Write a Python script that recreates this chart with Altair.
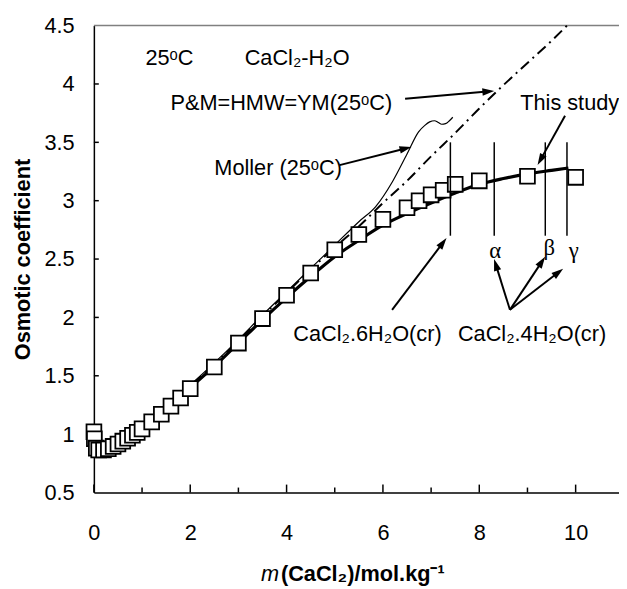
import math
import altair as alt
import pandas as pd

# ---------------- axes ----------------
XMAX = 10.9
YMIN, YMAX = 0.5, 4.5
W, H = 532, 473
x_major = [0, 2, 4, 6, 8, 10]
x_minor = [1, 3, 5, 7, 9]
y_ticks = [1.0, 1.5, 2.0, 2.5, 3.0, 3.5, 4.0]
y_labels = [0.5, 1.0, 1.5, 2.0, 2.5, 3.0, 3.5, 4.0, 4.5]

# ---------------- experimental points (squares) ----------------
exp_m = [0.001, 0.01, 0.05, 0.1, 0.2, 0.3, 0.4, 0.5, 0.6, 0.7, 0.8, 0.9, 1.0,
         1.2, 1.4, 1.6, 1.8, 2.0, 2.5, 3.0, 3.5, 4.0, 4.5, 5.0, 5.5, 6.0,
         6.5, 6.75, 7.0, 7.25, 7.5, 8.0, 9.0, 10.0]
exp_phi = [1.02, 0.96, 0.88, 0.865, 0.865, 0.875, 0.895, 0.915, 0.94, 0.965,
           0.99, 1.015, 1.045, 1.105, 1.17, 1.24, 1.31, 1.39, 1.575, 1.78,
           1.99, 2.19, 2.38, 2.58, 2.71, 2.84, 2.94, 3.0, 3.05, 3.09, 3.14,
           3.17, 3.21, 3.20]

# ---------------- model curves ----------------
study_m = [0, 0.02, 0.05, 0.1, 0.2, 0.3, 0.5, 0.75, 1.0, 1.5, 2.0, 2.5, 3.0,
           3.5, 4.0, 4.5, 5.0, 5.5, 6.0, 6.5, 7.0, 7.5, 8.0, 8.5, 9.0, 9.5, 9.85]
study_phi = [1.0, 0.9, 0.87, 0.855, 0.86, 0.875, 0.915, 0.98, 1.05, 1.22,
             1.40, 1.58, 1.78, 1.98, 2.17, 2.35, 2.52, 2.66, 2.79, 2.89,
             2.98, 3.065, 3.14, 3.19, 3.23, 3.26, 3.28]

pm_m = [0, 0.05, 0.1, 0.2, 0.5, 1.0, 1.5, 2.0, 2.5, 3.0, 3.5, 4.0, 4.5, 5.0,
        5.5, 6.0, 6.5, 7.0, 7.5, 8.0, 8.5, 9.0, 9.5, 9.82]
pm_phi = [1.0, 0.87, 0.855, 0.86, 0.915, 1.05, 1.225, 1.41, 1.60, 1.80, 2.01,
          2.21, 2.41, 2.60, 2.78, 2.98, 3.17, 3.38, 3.58, 3.79, 3.99, 4.18,
          4.37, 4.50]

moller_m = [0, 0.05, 0.1, 0.2, 0.5, 1.0, 1.5, 2.0, 2.5, 3.0, 3.5, 4.0, 4.5,
            5.0, 5.5, 5.85, 6.2, 6.5, 6.74, 6.87, 6.97, 7.07, 7.15, 7.22,
            7.3, 7.38, 7.45]
moller_phi = [1.0, 0.87, 0.855, 0.86, 0.915, 1.055, 1.23, 1.42, 1.61, 1.81,
              2.02, 2.22, 2.42, 2.62, 2.82, 2.95, 3.165, 3.40, 3.59, 3.645,
              3.675, 3.685, 3.67, 3.655, 3.66, 3.685, 3.715]

# ---------------- phase boundaries ----------------
phase_m = [7.40, 8.31, 9.37, 9.82]
phase_lo = [2.70, 2.70, 2.70, 2.70]
phase_hi = [3.50, 3.50, 3.50, 3.50]

greek_text = ["α", "β", "γ"]
greek_m = [8.33, 9.45, 9.96]
greek_phi = [2.57, 2.59, 2.57]

# ---------------- annotations ----------------
label_text = ["25ᵒC", "CaCl₂-H₂O", "P&M=HMW=YM(25ᵒC)", "Moller (25ᵒC)",
              "This study", "CaCl₂.6H₂O(cr)", "CaCl₂.4H₂O(cr)"]
label_m = [1.07, 3.13, 1.59, 2.50, 8.85, 4.14, 7.556]
label_phi = [4.22, 4.22, 3.84, 3.28, 3.84, 1.86, 1.86]

arrow_tail_m = [5.10, 6.46, 9.78, 6.19, 8.636, 8.636, 8.636]
arrow_tail_phi = [3.305, 3.874, 3.728, 2.065, 2.065, 2.065, 2.065]
arrow_head_m = [6.59, 8.31, 9.21, 7.32, 8.307, 9.367, 9.74]
arrow_head_phi = [3.46, 3.94, 3.305, 2.68, 2.50, 2.52, 2.417]

xtitle_m = [3.842, 3.883]
xtitle_phi = [-0.20, -0.20]

# ---------------- helpers ----------------
KX = W / XMAX
KY = H / (YMAX - YMIN)
XTICK_MAJ = 8 / KY
XTICK_MIN = 5 / KY
YTICK = 5 / KX
HEAD_LEN = 12

xscale = alt.Scale(domain=[0, XMAX], nice=False, zero=False)
yscale = alt.Scale(domain=[YMIN, YMAX], nice=False, zero=False)
xaxis = alt.Axis(values=x_major, tickSize=0, labelFontSize=22, labelPadding=31,
                 domainColor="black", domainWidth=1.5, grid=False, title=None,
                 labelColor="black", labelFlush=False, labelOverlap=False)
yaxis = alt.Axis(values=y_labels, format="~g", tickSize=0, labelFontSize=22,
                 labelPadding=20, domainColor="black", domainWidth=1.5,
                 grid=False, title="Osmotic coefficient", titleFontSize=22,
                 titleFontWeight="bold", titleColor="black", titlePadding=10,
                 labelColor="black", labelFlush=False, labelOverlap=False)


def X(f="x"):
    return alt.X(f + ":Q", scale=xscale, axis=xaxis)


def Y(f="y"):
    return alt.Y(f + ":Q", scale=yscale, axis=yaxis)


# frame
top_df = pd.DataFrame({"x": [0], "x2": [XMAX], "y": [YMAX]})
top = alt.Chart(top_df).mark_rule(color="#808080", strokeWidth=1.5).encode(
    x=X(), x2="x2:Q", y=Y())

xt_df = pd.DataFrame({"x": x_major + x_minor,
                      "y": [YMIN] * (len(x_major) + len(x_minor)),
                      "y2": [YMIN + XTICK_MAJ] * len(x_major) + [YMIN + XTICK_MIN] * len(x_minor)})
xt = alt.Chart(xt_df).mark_rule(color="black", strokeWidth=1.5).encode(
    x=X(), y=Y(), y2="y2:Q")
yt_df = pd.DataFrame({"x": [0] * len(y_ticks), "x2": [YTICK] * len(y_ticks), "y": y_ticks})
yt = alt.Chart(yt_df).mark_rule(color="black", strokeWidth=1.5).encode(
    x=X(), x2="x2:Q", y=Y())

# curves
def curve(mx, my, width, dash=None):
    df = pd.DataFrame({"x": mx, "y": my})
    kw = dict(color="black", strokeWidth=width, interpolate="monotone")
    if dash:
        kw["strokeDash"] = dash
    return alt.Chart(df).mark_line(**kw).encode(x=X(), y=Y())


moller = curve(moller_m, moller_phi, 1.2)
pm = curve(pm_m, pm_phi, 2, [11, 5, 2, 5])
study = curve(study_m, study_phi, 3.2)

exp_df = pd.DataFrame({"x": exp_m, "y": exp_phi})
pts = alt.Chart(exp_df).mark_point(shape="square", size=225, filled=True,
                                   fill="white", stroke="black",
                                   strokeWidth=1.8, opacity=1).encode(x=X(), y=Y())

ph_df = pd.DataFrame({"x": phase_m, "y": phase_lo, "y2": phase_hi})
ph = alt.Chart(ph_df).mark_rule(color="black", strokeWidth=1.5).encode(
    x=X(), y=Y(), y2="y2:Q")

gr_df = pd.DataFrame({"x": greek_m, "y": greek_phi, "t": greek_text})
gr = alt.Chart(gr_df).mark_text(font="Liberation Serif", fontSize=23,
                                color="black", align="center",
                                baseline="middle").encode(x=X(), y=Y(), text="t:N")

lab_df = pd.DataFrame({"x": label_m, "y": label_phi, "t": label_text})
lab = alt.Chart(lab_df).mark_text(font="Liberation Sans", fontSize=22,
                                  color="black", align="left",
                                  baseline="middle").encode(x=X(), y=Y(), text="t:N")

# arrows
rows = []
for tx, ty, hx, hy in zip(arrow_tail_m, arrow_tail_phi, arrow_head_m, arrow_head_phi):
    dxp = (hx - tx) * KX
    dyp = -(hy - ty) * KY
    L = math.hypot(dxp, dyp)
    ang = math.degrees(math.atan2(dxp, -dyp)) % 360
    ex = hx - (dxp / L) * (HEAD_LEN * 0.6) / KX
    ey = hy + (dyp / L) * (HEAD_LEN * 0.6) / KY
    rows.append({"x": tx, "y": ty, "x2": ex, "y2": ey, "hx": hx, "hy": hy, "ang": ang})
arr_df = pd.DataFrame(rows)
arr = alt.Chart(arr_df).mark_rule(color="black", strokeWidth=2).encode(
    x=X(), y=Y(), x2="x2:Q", y2="y2:Q")
heads = alt.Chart(arr_df).mark_point(shape="M0,0L-0.75,2.4L0.75,2.4Z", size=100,
                                     filled=True, color="black", opacity=1).encode(
    x=X("hx"), y=Y("hy"), angle=alt.Angle("ang:Q", scale=None))

# x-axis title built from text
xt1 = alt.Chart(pd.DataFrame({"x": [xtitle_m[0]], "y": [xtitle_phi[0]], "t": ["m"]})).mark_text(
    font="Liberation Sans", fontSize=22, fontStyle="italic", color="black",
    align="right", baseline="middle").encode(x=X(), y=Y(), text="t:N")
xt2 = alt.Chart(pd.DataFrame({"x": [xtitle_m[1]], "y": [xtitle_phi[1]], "t": ["(CaCl₂)/mol.kg⁻¹"]})).mark_text(
    font="Liberation Sans", fontSize=22, fontWeight="bold", color="black",
    align="left", baseline="middle").encode(x=X(), y=Y(), text="t:N")

chart = alt.layer(top, xt, yt, moller, pm, study, pts, ph, arr, heads, gr, lab, xt1, xt2).properties(
    width=W, height=H,
    padding={"left": 87, "top": 14, "right": 0, "bottom": 100},
    autosize=alt.AutoSizeParams(type="none"),
).configure_view(stroke=None).configure_axis(
    labelFont="Liberation Sans", titleFont="Liberation Sans")

chart.save("out.html", embed_options={"renderer": "svg", "actions": False})
